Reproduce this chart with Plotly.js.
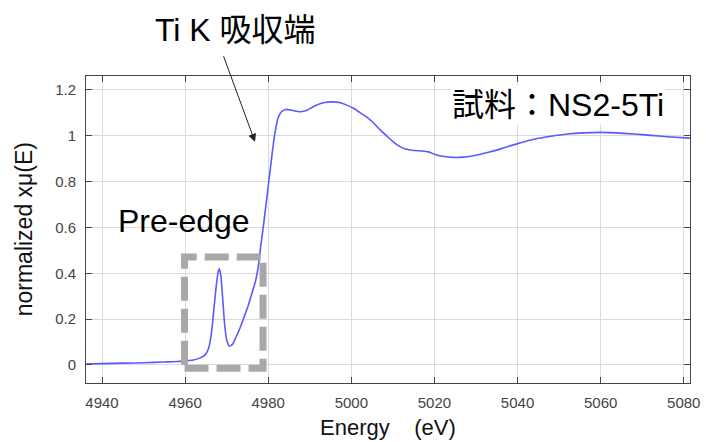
<!DOCTYPE html>
<html>
<head>
<meta charset="utf-8">
<script src="https://cdn.plot.ly/plotly-3.0.1.min.js"></script>
<style>html,body{margin:0;padding:0;background:#fff;}#chart{width:706px;height:442px;}</style>
</head>
<body>
<div id="chart"></div>
<script>
// Ti K-edge XANES, sample NS2-5Ti
const energy = [4936.2, 4940, 4945, 4950, 4955, 4958, 4960, 4962, 4963.5, 4964.8, 4965.6, 4966.2, 4966.8, 4967.4, 4967.9, 4968.2, 4968.6, 4969.0, 4969.5, 4970.0, 4970.6, 4971.4, 4972.2, 4973.2, 4974.2, 4975.2, 4976.2, 4977.0, 4977.6, 4978.2, 4978.8, 4979.4, 4980.0, 4980.6, 4981.2, 4981.8, 4982.4, 4983.2, 4984.2, 4985.4, 4986.6, 4987.8, 4989.2, 4990.6, 4992.0, 4993.6, 4995.2, 4997.0, 4998.8, 5000.5, 5002.2, 5003.8, 5005.4, 5007.0, 5008.5, 5010.0, 5011.5, 5013.0, 5015.0, 5017.0, 5018.6, 5020.0, 5022.0, 5024.5, 5027.0, 5030.0, 5033.0, 5036.0, 5040.0, 5044.0, 5048.0, 5052.0, 5056.0, 5060.0, 5064.0, 5068.0, 5072.0, 5076.0, 5081.5];
const mu = [0.004, 0.006, 0.008, 0.010, 0.013, 0.015, 0.018, 0.022, 0.030, 0.044, 0.07, 0.12, 0.22, 0.33, 0.40, 0.42, 0.39, 0.30, 0.18, 0.11, 0.083, 0.09, 0.12, 0.16, 0.21, 0.26, 0.32, 0.37, 0.43, 0.52, 0.60, 0.69, 0.78, 0.87, 0.96, 1.03, 1.08, 1.105, 1.115, 1.113, 1.107, 1.105, 1.11, 1.125, 1.137, 1.145, 1.148, 1.146, 1.135, 1.12, 1.10, 1.08, 1.055, 1.025, 1.00, 0.975, 0.955, 0.942, 0.936, 0.934, 0.93, 0.92, 0.911, 0.906, 0.907, 0.915, 0.928, 0.943, 0.966, 0.985, 0.998, 1.008, 1.013, 1.015, 1.013, 1.008, 1.002, 0.996, 0.99];
const xTicks = [4940, 4960, 4980, 5000, 5020, 5040, 5060, 5080];
const yTicks = [0, 0.2, 0.4, 0.6, 0.8, 1, 1.2];
const yTickText = ['0', '0.2', '0.4', '0.6', '0.8', '1', '1.2'];

const FONT = 'Liberation Sans, Arial, Noto Sans CJK JP, sans-serif';
const axisCommon = {
  showline: true, mirror: 'ticks', linecolor: '#444', linewidth: 1,
  ticks: 'inside', ticklen: 6, tickcolor: '#444', tickwidth: 1,
  showgrid: true, gridcolor: '#dadada', gridwidth: 1, zeroline: false,
  tickfont: {family: FONT, size: 15, color: '#444'}
};

const trace = {
  x: energy, y: mu, type: 'scatter', mode: 'lines',
  line: {color: '#5a5aff', width: 1.6, shape: 'spline', smoothing: 0.6},
  hoverinfo: 'skip'
};

const layout = {
  width: 706, height: 442,
  margin: {l: 86, r: 16, t: 76, b: 59},
  paper_bgcolor: '#fff', plot_bgcolor: '#fff',
  showlegend: false,
  font: {family: FONT, color: '#000'},
  xaxis: Object.assign({}, axisCommon, {range: [4936.15, 5081.5], tickvals: xTicks, ticktext: xTicks.map(String), ticklabelstandoff: 6}),
  yaxis: Object.assign({}, axisCommon, {range: [-0.0786, 1.261], tickvals: yTicks, ticktext: yTickText, ticklabelstandoff: 6}),
  shapes: [{
    type: 'rect', xref: 'x', yref: 'y',
    x0: 4959.86, x1: 4978.75, y0: -0.0144, y1: 0.471,
    line: {color: '#a8a8a8', width: 7, dash: '24px,8px'},
    fillcolor: 'rgba(0,0,0,0)', layer: 'above'
  }],
  annotations: [
    {xref: 'paper', yref: 'paper', x: 0.5, y: -0.145, xanchor: 'center', yanchor: 'middle', showarrow: false,
     text: 'Energy\u00a0\u00a0\u00a0\u00a0(eV)', font: {family: FONT, size: 22, color: '#111'}},
    {xref: 'paper', yref: 'paper', x: -0.103, y: 0.5, xanchor: 'center', yanchor: 'middle', showarrow: false,
     textangle: -90, text: 'normalized xμ(E)', font: {family: FONT, size: 23, color: '#111'}},
    {xref: 'paper', yref: 'paper', x: 0.2467, y: 1.15, xanchor: 'center', yanchor: 'middle', showarrow: false,
     text: 'Ti K 吸収端', font: {family: FONT, size: 32, color: '#000'}},
    {xref: 'x', yref: 'y', x: 4976.82, y: 0.974, ax: -32, ay: -87, text: '', showarrow: true,
     arrowhead: 2, arrowsize: 1.6, arrowwidth: 1, arrowcolor: '#222'},
    {xref: 'paper', yref: 'paper', x: 0.782, y: 0.905, xanchor: 'center', yanchor: 'middle', showarrow: false,
     text: '試料：NS2-5Ti', bgcolor: '#fff', font: {family: FONT, size: 32, color: '#000'}},
    {xref: 'paper', yref: 'paper', x: 0.162, y: 0.527, xanchor: 'center', yanchor: 'middle', showarrow: false,
     text: 'Pre-edge', font: {family: FONT, size: 32, color: '#000'}}
  ]
};

Plotly.newPlot('chart', [trace], layout, {staticPlot: true, displayModeBar: false});
</script>
</body>
</html>
